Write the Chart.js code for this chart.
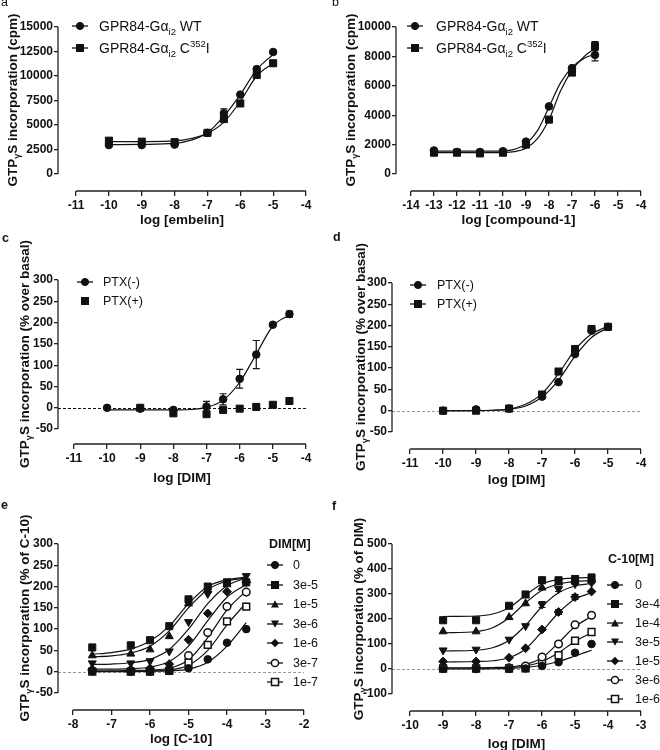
<!DOCTYPE html>
<html>
<head>
<meta charset="utf-8">
<script src="https://cdn.jsdelivr.net/npm/chart.js@4.4.1/dist/chart.umd.min.js"></script>
<style>
body { margin: 0; background: #fff; }
#fig { position: relative; width: 660px; height: 750px; overflow: hidden; font-family: "Liberation Sans", Arial, sans-serif; color: #111; }
#fig canvas { position: absolute; }
.lab { position: absolute; font-size: 12.5px; line-height: 14px; }
.ytitle { position: absolute; font-weight: bold; font-size: 13.5px; white-space: nowrap; transform: translate(-50%, -50%) rotate(-90deg); }
.leg { position: absolute; white-space: nowrap; }
.leg svg { position: absolute; }
sub, sup { font-size: 68%; line-height: 0; }
</style>
</head>
<body>
<div id="fig">
  <canvas id="ca" width="330" height="250" style="left:0;top:0"></canvas>
  <canvas id="cb" width="330" height="250" style="left:330px;top:0"></canvas>
  <canvas id="cc" width="330" height="250" style="left:0;top:250px"></canvas>
  <canvas id="cd" width="330" height="250" style="left:330px;top:250px"></canvas>
  <canvas id="ce" width="330" height="250" style="left:0;top:500px"></canvas>
  <canvas id="cf" width="330" height="250" style="left:330px;top:500px"></canvas>
</div>
<script>
// ---------- data ----------
// a: embelin
const aX = [-10, -9, -8, -7, -6.5, -6, -5.5, -5];
const aWT = [2950, 2950, 3000, 4200, 6200, 8100, 10700, 12450];
const aWTErr = [0, 0, 0, 0, 450, 0, 200, 0];
const aC352 = [3400, 3300, 3250, 4200, 5600, 7200, 10100, 11300];
const aFitX = [-10, -9, -8, -7.5, -7, -6.5, -6, -5.5, -5];
const aWTFit = [3000, 3020, 3120, 3450, 4200, 5900, 8100, 10650, 12200];
const aC352Fit = [3300, 3310, 3370, 3620, 4150, 5300, 7400, 10000, 11300];
const aXTicks = [-11, -10, -9, -8, -7, -6, -5, -4];
const aYTicks = [0, 2500, 5000, 7500, 10000, 12500, 15000];

// b: compound-1
const bX = [-13, -12, -11, -10, -9, -8, -7, -6];
const bWT = [1600, 1500, 1500, 1550, 2200, 4600, 7200, 8100];
const bWTErr = [0, 0, 0, 0, 0, 0, 0, 400];
const bC352 = [1450, 1450, 1400, 1450, 2000, 3700, 6900, 8700];
const bC352Err = [0, 0, 0, 0, 0, 0, 0, 300];
const bFitX = [-13, -12, -11, -10, -9.5, -9, -8.5, -8, -7.5, -7, -6.5, -6];
const bWTFit = [1550, 1550, 1550, 1570, 1680, 2050, 2950, 4550, 6200, 7250, 7850, 8150];
const bC352Fit = [1450, 1450, 1450, 1460, 1520, 1750, 2400, 3700, 5650, 7050, 7950, 8550];
const bXTicks = [-14, -13, -12, -11, -10, -9, -8, -7, -6, -5, -4];
const bYTicks = [0, 2000, 4000, 6000, 8000, 10000];

// c: DIM, PTX
const cX = [-10, -9, -8, -7, -6.5, -6, -5.5, -5, -4.5];
const cMinus = [0, -2, -5, 3, 20, 68, 125, 195, 220];
const cMinusErr = [0, 0, 0, 12, 13, 22, 33, 0, 7];
const cPlusX = [-9, -8, -7, -6.5, -6, -5.5, -5, -4.5];
const cPlus = [0, -13, -15, -5, -2, 2, 7, 16];
const cFitX = [-10, -9, -8, -7.5, -7, -6.5, -6, -5.5, -5, -4.5];
const cMinusFit = [-5, -5, -5, -4, 1, 18, 60, 126, 192, 218];
const cXTicks = [-11, -10, -9, -8, -7, -6, -5, -4];
const cYTicks = [-50, 0, 50, 100, 150, 200, 250, 300];

// d: DIM, PTX
const dX = [-10, -9, -8, -7, -6.5, -6, -5.5, -5];
const dMinus = [0, 3, 5, 33, 67, 133, 188, 197];
const dPlus = [0, 0, 5, 38, 92, 145, 192, 197];
const dFitX = [-10, -9, -8.5, -8, -7.5, -7, -6.5, -6, -5.5, -5];
const dMinusFit = [0, 0, 1, 3, 11, 32, 72, 128, 172, 195];
const dPlusFit = [0, 0, 1, 4, 15, 40, 87, 143, 180, 198];
const dXTicks = [-11, -10, -9, -8, -7, -6, -5, -4];
const dYTicks = [-50, 0, 50, 100, 150, 200, 250, 300];

// e: C-10 with DIM
const eNames = ['0', '3e-5', '1e-5', '3e-6', '1e-6', '3e-7', '1e-7'];
const eX = [-7.5, -6.5, -6, -5.5, -5, -4.5, -4, -3.5];
const e0 = [2, 0, 0, 2, 8, 29, 68, 100];
const e3em5 = [57, 62, 74, 107, 170, 200, 210, 210];
const e1em5 = [38, 42, 52, 83, 160, 192, 205, 215];
const e3em6 = [20, 20, 25, 48, 117, 183, 210, 225];
const e1em6 = [5, 5, 8, 18, 75, 137, 188, 210];
const e3em7 = [2, 2, 3, 5, 38, 92, 153, 187];
const e1em7 = [0, 0, 0, 2, 22, 63, 118, 153];
const eFitX = [-7.5, -7, -6.5, -6, -5.5, -5, -4.5, -4, -3.5];
const e0Fit = [0, 0, 0, 1, 2, 6, 22, 60, 115];
const e3em5Fit = [41, 45, 53, 72, 107, 160, 200, 216, 222];
const e1em5Fit = [35, 37, 44, 60, 96, 150, 193, 213, 220];
const e3em6Fit = [17, 18, 21, 29, 52, 100, 160, 202, 220];
const e1em6Fit = [6, 6, 7, 11, 24, 60, 120, 175, 205];
const e3em7Fit = [2, 2, 3, 4, 8, 28, 80, 145, 190];
const e1em7Fit = [0, 1, 1, 2, 4, 15, 50, 110, 162];
const eXTicks = [-8, -7, -6, -5, -4, -3, -2];
const eYTicks = [-50, 0, 50, 100, 150, 200, 250, 300];

// f: DIM with C-10
const fNames = ['0', '3e-4', '1e-4', '3e-5', '1e-5', '3e-6', '1e-6'];
const fX = [-9, -8, -7, -6.5, -6, -5.5, -5, -4.5];
const f0 = [0, 0, 0, 2, 12, 27, 65, 100];
const f3em4 = [195, 195, 253, 298, 355, 355, 360, 365];
const f3em4Err = [0, 0, 0, 0, 12, 10, 12, 15];
const f1em4 = [150, 150, 207, 262, 325, 345, 350, 355];
const f1em4Err = [0, 0, 0, 0, 0, 0, 12, 14];
const f3em5 = [75, 78, 118, 172, 258, 320, 340, 345];
const f3em5Err = [0, 0, 0, 0, 12, 10, 0, 0];
const f1em5 = [30, 30, 45, 83, 158, 228, 288, 310];
const f1em5Err = [0, 0, 0, 0, 0, 10, 10, 0];
const f3em6 = [5, 5, 5, 12, 48, 100, 177, 215];
const f1em6 = [2, 2, 2, 3, 28, 55, 113, 148];
const fFitX = [-9, -8, -7.5, -7, -6.5, -6, -5.5, -5, -4.5];
const f0Fit = [0, 0, 1, 2, 6, 15, 30, 52, 75];
const f3em4Fit = [210, 212, 220, 245, 295, 340, 358, 364, 366];
const f1em4Fit = [145, 150, 165, 205, 265, 315, 340, 350, 353];
const f3em5Fit = [72, 75, 85, 115, 175, 250, 305, 332, 342];
const f1em5Fit = [28, 30, 33, 45, 80, 150, 225, 280, 305];
const f3em6Fit = [5, 5, 6, 8, 18, 45, 105, 170, 210];
const f1em6Fit = [3, 3, 4, 5, 12, 30, 65, 110, 145];
const fXTicks = [-10, -9, -8, -7, -6, -5, -4, -3];
const fYTicks = [-100, 0, 100, 200, 300, 400, 500];

// ---------- styles ----------
const INK = '#111';
const FAM = "'Liberation Sans', Arial, sans-serif";
const tickFont = { family: FAM, size: 12, weight: 'bold' };
const titleFont = { family: FAM, size: 13.5, weight: 'bold' };

const MK = {
  circle:  { shape: 'circle', r: 3.8 },
  square:  { shape: 'rect', r: 5 },
  up:      { shape: 'triangle', r: 4.6 },
  down:    { shape: 'triangle', r: 4.6, rot: 180 },
  diamond: { shape: 'rectRot', r: 4.4 },
  ocircle: { shape: 'circle', r: 3.8, open: true },
  osquare: { shape: 'rect', r: 4.8, open: true }
};
const eMarks = ['circle', 'square', 'up', 'down', 'diamond', 'ocircle', 'osquare'];

function pts(xs, ys) {
  return xs.map((v, i) => ({ x: v, y: ys[i] }));
}

function marks(xs, ys, mk, errs) {
  const m = MK[mk];
  return {
    type: 'scatter', data: pts(xs, ys), showLine: false, order: 0, clip: false, errs: errs,
    pointStyle: m.shape, pointRadius: m.r, pointRotation: m.rot || 0,
    pointBackgroundColor: m.open ? '#fff' : INK, pointBorderColor: INK,
    pointBorderWidth: m.open ? 1.5 : 1
  };
}

function fit(xs, ys) {
  return {
    type: 'line', data: pts(xs, ys), order: 1, clip: false,
    borderColor: INK, borderWidth: 1.2, pointRadius: 0, fill: false,
    cubicInterpolationMode: 'monotone'
  };
}

// Prism style axes: lines only over the tick range, dashed zero line, error bars
const prismAxes = {
  id: 'prismAxes',
  beforeDatasetsDraw(chart, args, o) {
    const { ctx, chartArea, scales: { x, y } } = chart;
    const xt = o.xTicks, yt = o.yTicks;
    ctx.save();
    if (o.zero) {
      ctx.strokeStyle = o.zero;
      ctx.lineWidth = 1;
      ctx.setLineDash([3, 2]);
      const y0 = Math.round(y.getPixelForValue(0)) + 0.5;
      ctx.beginPath();
      ctx.moveTo(chartArea.left, y0);
      ctx.lineTo(x.getPixelForValue(xt[xt.length - 1]), y0);
      ctx.stroke();
      ctx.setLineDash([]);
    }
    ctx.strokeStyle = '#222';
    ctx.lineWidth = 1.3;
    ctx.beginPath();
    ctx.moveTo(chartArea.left, y.getPixelForValue(yt[0]));
    ctx.lineTo(chartArea.left, y.getPixelForValue(yt[yt.length - 1]));
    ctx.moveTo(x.getPixelForValue(xt[0]), chartArea.bottom);
    ctx.lineTo(x.getPixelForValue(xt[xt.length - 1]), chartArea.bottom);
    ctx.stroke();
    ctx.restore();
  },
  afterDatasetsDraw(chart) {
    const { ctx, scales: { x, y } } = chart;
    ctx.save();
    ctx.strokeStyle = INK;
    ctx.lineWidth = 1.2;
    chart.data.datasets.forEach(ds => {
      if (!ds.errs) return;
      ds.data.forEach((p, i) => {
        const e = ds.errs[i];
        if (!e) return;
        const px = x.getPixelForValue(p.x);
        const top = y.getPixelForValue(p.y + e), bot = y.getPixelForValue(p.y - e);
        ctx.beginPath();
        ctx.moveTo(px, top); ctx.lineTo(px, bot);
        ctx.moveTo(px - 3.5, top); ctx.lineTo(px + 3.5, top);
        ctx.moveTo(px - 3.5, bot); ctx.lineTo(px + 3.5, bot);
        ctx.stroke();
      });
    });
    ctx.restore();
  }
};
Chart.register(prismAxes);

// p: left/top/right/bottom of the plot frame in canvas px, ranges, ticks
function makePanel(id, p, datasets) {
  const xt = p.xTicks, yt = p.yTicks;
  return new Chart(document.getElementById(id).getContext('2d'), {
    type: 'scatter',
    data: { datasets: datasets },
    options: {
      responsive: false, animation: false, devicePixelRatio: 1, events: [],
      layout: { padding: { left: 0, top: p.top, right: 330 - p.right, bottom: 0 } },
      plugins: {
        legend: { display: false }, tooltip: { enabled: false },
        prismAxes: { xTicks: xt, yTicks: yt, zero: p.zero }
      },
      scales: {
        x: {
          type: 'linear', min: p.xMin, max: xt[xt.length - 1],
          afterBuildTicks: s => { s.ticks = xt.map(v => ({ value: v })); },
          afterFit: s => { s.height = 250 - p.bottom; },
          border: { display: false },
          grid: { drawOnChartArea: false, drawTicks: true, tickLength: 5, color: '#222', lineWidth: 1.3 },
          ticks: { color: INK, font: tickFont, padding: 2, maxRotation: 0, autoSkip: false, callback: v => String(v) },
          title: { display: true, text: p.xTitle, color: INK, font: titleFont, padding: { top: 0, bottom: p.titlePad } }
        },
        y: {
          type: 'linear', min: p.yMin, max: yt[yt.length - 1],
          afterBuildTicks: s => { s.ticks = yt.map(v => ({ value: v })); },
          afterFit: s => { s.width = p.left; },
          border: { display: false },
          grid: { drawOnChartArea: false, drawTicks: true, tickLength: 4, color: '#222', lineWidth: 1.3 },
          ticks: { color: INK, font: tickFont, padding: 1, autoSkip: false, callback: v => String(v) }
        }
      }
    }
  });
}

makePanel('ca', { left: 58, top: 27, right: 306, bottom: 191, xMin: -11.55, yMin: -1735,
  xTicks: aXTicks, yTicks: aYTicks, xTitle: 'log [embelin]', titlePad: 22 }, [
  marks(aX, aWT, 'circle', aWTErr), marks(aX, aC352, 'square'),
  fit(aFitX, aWTFit), fit(aFitX, aC352Fit)
]);

makePanel('cb', { left: 66, top: 27, right: 311, bottom: 191, xMin: -14.65, yMin: -1156,
  xTicks: bXTicks, yTicks: bYTicks, xTitle: 'log [compound-1]', titlePad: 22 }, [
  marks(bX, bWT, 'circle', bWTErr), marks(bX, bC352, 'square', bC352Err),
  fit(bFitX, bWTFit), fit(bFitX, bC352Fit)
]);

makePanel('cc', { left: 58, top: 30, right: 306, bottom: 194, xMin: -11.48, yMin: -85,
  xTicks: cXTicks, yTicks: cYTicks, xTitle: 'log [DIM]', titlePad: 14, zero: '#111' }, [
  marks(cX, cMinus, 'circle', cMinusErr), marks(cPlusX, cPlus, 'square'),
  fit(cFitX, cMinusFit)
]);

makePanel('cd', { left: 62, top: 33, right: 311, bottom: 199, xMin: -11.55, yMin: -90,
  xTicks: dXTicks, yTicks: dYTicks, xTitle: 'log [DIM]', titlePad: 12, zero: '#999' }, [
  marks(dX, dMinus, 'circle'), marks(dX, dPlus, 'square'),
  fit(dFitX, dMinusFit), fit(dFitX, dPlusFit)
]);

const eSeries = [e0, e3em5, e1em5, e3em6, e1em6, e3em7, e1em7];
const eFits = [e0Fit, e3em5Fit, e1em5Fit, e3em6Fit, e1em6Fit, e3em7Fit, e1em7Fit];
makePanel('ce', { left: 58, top: 44, right: 304, bottom: 210, xMin: -8.39, yMin: -90,
  xTicks: eXTicks, yTicks: eYTicks, xTitle: 'log [C-10]', titlePad: 3, zero: '#999' },
  eSeries.map((s, i) => marks(eX, s, eMarks[i])).concat(eFits.map(s => fit(eFitX, s))));

const fSeries = [f0, f3em4, f1em4, f3em5, f1em5, f3em6, f1em6];
const fErrs = [null, f3em4Err, f1em4Err, f3em5Err, f1em5Err, null, null];
const fFits = [f0Fit, f3em4Fit, f1em4Fit, f3em5Fit, f1em5Fit, f3em6Fit, f1em6Fit];
makePanel('cf', { left: 62, top: 44, right: 311, bottom: 211, xMin: -10.55, yMin: -168,
  xTicks: fXTicks, yTicks: fYTicks, xTitle: 'log [DIM]', titlePad: -2, zero: '#999' },
  fSeries.map((s, i) => marks(fX, s, eMarks[i], fErrs[i])).concat(fFits.map(s => fit(fFitX, s))));

// ---------- html text: panel letters, y titles, legends ----------
const fig = document.getElementById('fig');
function addDiv(cls, style, html) {
  const d = document.createElement('div');
  d.className = cls;
  d.setAttribute('style', style);
  d.innerHTML = html;
  fig.appendChild(d);
  return d;
}

[['a', 1, -5, 'normal'], ['b', 332, -5, 'normal'], ['c', 2, 231, 'bold'],
 ['d', 333, 230, 'bold'], ['e', 1, 498, 'bold'], ['f', 332, 499, 'bold']].forEach(l =>
  addDiv('lab', `left:${l[1]}px;top:${l[2]}px;font-weight:${l[3]}`, l[0]));

const gtp = 'GTP<sub>&gamma;</sub>S incorporation ';
[[12, 100, '(cpm)'], [350, 100, '(cpm)'], [24, 354, '(% over basal)'],
 [360, 357, '(% over basal)'], [24, 618, '(% of C-10)'], [358, 619, '(% of DIM)']].forEach(t =>
  addDiv('ytitle', `left:${t[0]}px;top:${t[1]}px`, gtp + t[2]));

function markerSvg(mk, withLine) {
  const m = MK[mk];
  const fill = m.open ? '#fff' : INK, sw = m.open ? 1.5 : 1;
  let s = '';
  if (m.shape === 'circle') s = `<circle cx="8" cy="6" r="3.6" fill="${fill}" stroke="${INK}" stroke-width="${sw}"/>`;
  else if (m.shape === 'rect') s = `<rect x="4.5" y="2.5" width="7" height="7" fill="${fill}" stroke="${INK}" stroke-width="${sw}"/>`;
  else if (m.shape === 'rectRot') s = `<polygon points="8,1.8 12.2,6 8,10.2 3.8,6" fill="${fill}"/>`;
  else if (m.rot) s = `<polygon points="4,2.5 12,2.5 8,9.8" fill="${fill}"/>`;
  else s = `<polygon points="8,2.2 12,9.5 4,9.5" fill="${fill}"/>`;
  const line = withLine ? `<line x1="0" y1="6" x2="16" y2="6" stroke="${INK}" stroke-width="1.3"/>` : '';
  return `<svg width="16" height="12" viewBox="0 0 16 12">${line}${s}</svg>`;
}

function legendRow(x, cy, textX, mk, withLine, html, size) {
  const d = addDiv('leg', `left:${x}px;top:${cy - 10}px;height:20px;font-size:${size}px;line-height:20px`, '');
  d.innerHTML = markerSvg(mk, withLine).replace('<svg', '<svg style="left:0;top:4px"') +
    `<span style="position:absolute;left:${textX - x}px;top:0">${html}</span>`;
}

const abNames = ['GPR84-G&alpha;<sub>i2</sub> WT', 'GPR84-G&alpha;<sub>i2</sub> C<sup>352</sup>I'];
const cdNames = ['PTX(-)', 'PTX(+)'];
legendRow(72, 26, 99, 'circle', true, abNames[0], 14);
legendRow(72, 48, 99, 'square', true, abNames[1], 14);
legendRow(407, 26, 436, 'circle', true, abNames[0], 14);
legendRow(407, 48, 436, 'square', true, abNames[1], 14);
legendRow(77, 282, 103, 'circle', true, cdNames[0], 12.5);
legendRow(77, 301, 103, 'square', false, cdNames[1], 12.5);
legendRow(410, 285, 437, 'circle', true, cdNames[0], 12.5);
legendRow(410, 304, 437, 'square', true, cdNames[1], 12.5);

addDiv('leg', 'left:269px;top:535px;font-size:12.5px;font-weight:bold;line-height:18px', 'DIM[M]');
eNames.forEach((n, i) => legendRow(267, 565 + 19.5 * i, 293, eMarks[i], true, n, 12.5));
addDiv('leg', 'left:608px;top:550px;font-size:12.5px;font-weight:bold;line-height:18px', 'C-10[M]');
fNames.forEach((n, i) => legendRow(607, 585 + 19 * i, 635, eMarks[i], true, n, 12.5));
</script>
</body>
</html>
